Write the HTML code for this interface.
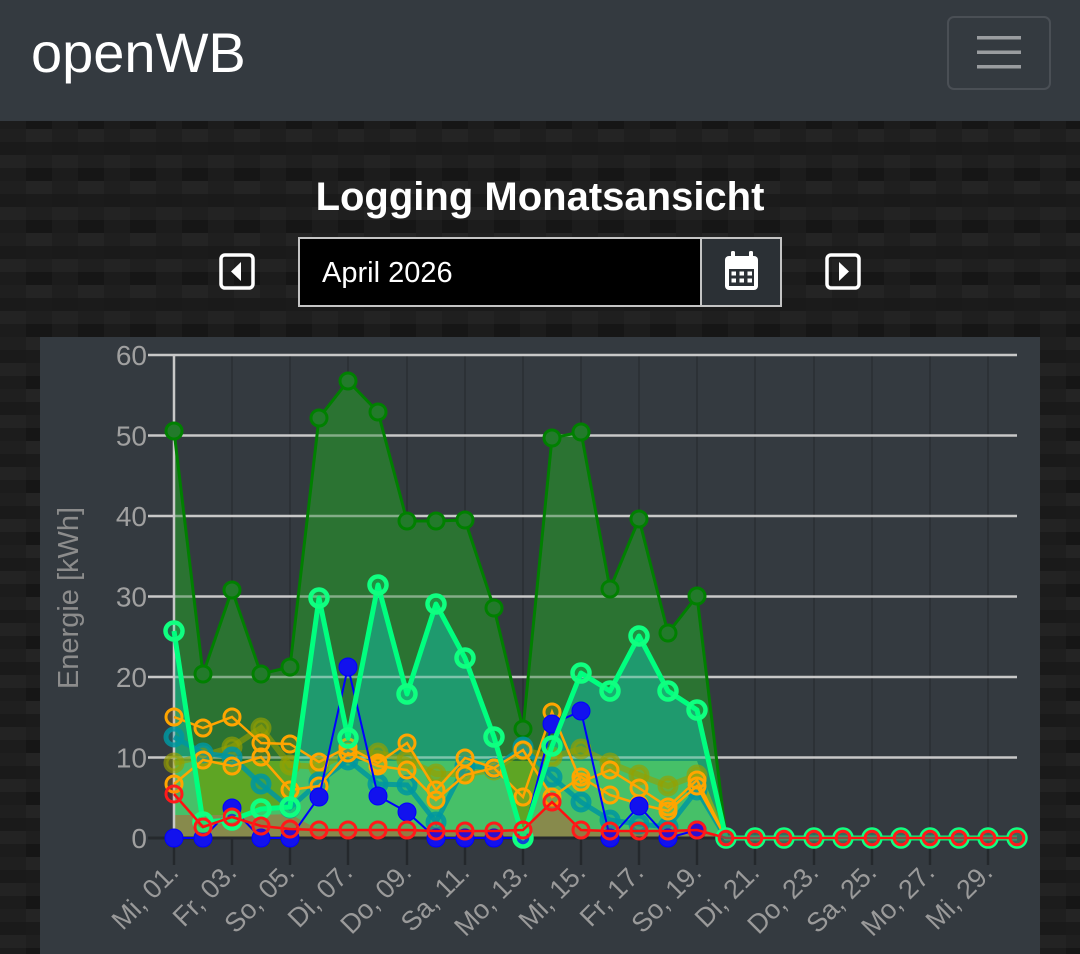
<!DOCTYPE html>
<html><head><meta charset="utf-8">
<style>
html,body{margin:0;padding:0;}
body{width:1080px;height:954px;overflow:hidden;position:relative;background-color:#1e1e1e;
font-family:"Liberation Sans",sans-serif;}
svg{position:absolute;left:0;top:0;}
</style></head>
<body>
<svg width="1080" height="954" viewBox="0 0 1080 954" xmlns="http://www.w3.org/2000/svg" font-family="Liberation Sans, sans-serif">
<defs>
<pattern id="carbon" patternUnits="userSpaceOnUse" x="0" y="129" width="52" height="52">
<rect x="0" y="0" width="26" height="13" fill="#1f1f1f"/>
<rect x="0" y="13" width="26" height="13" fill="#1a1a1a"/>
<rect x="0" y="26" width="26" height="13" fill="#232323"/>
<rect x="0" y="39" width="26" height="13" fill="#1c1c1c"/>
<rect x="26" y="0" width="26" height="13" fill="#242424"/>
<rect x="26" y="13" width="26" height="13" fill="#1b1b1b"/>
<rect x="26" y="26" width="26" height="13" fill="#1f1f1f"/>
<rect x="26" y="39" width="26" height="13" fill="#161616"/>
</pattern>
<clipPath id="bc"><polygon points="174,838 174,631 203,822 232,820 261,809 290,807 319,598 348,738 378,585 407,694 436,604 465,658 494,737 523,838 552,746 581,673 610,691 639,636 668,691 697,710 726,838"/></clipPath>
<clipPath id="pvc"><polygon points="174,838 174,431 203,674 232,590 261,674 290,667 319,418 348,381 378,412 407,521 436,521 465,520 494,608 523,729 552,438 581,432 610,589 639,519 668,633 697,596 726,838"/></clipPath>
</defs>
<rect x="0" y="0" width="1080" height="954" fill="url(#carbon)"/>
<!-- header -->
<rect x="0" y="0" width="1080" height="121" fill="#343a40"/>
<text x="31" y="72" font-size="56" fill="#ffffff">openWB</text>
<rect x="948" y="17" width="102" height="72" rx="6" fill="none" stroke="#4a4f55" stroke-width="2"/>
<rect x="977" y="36" width="44" height="3.5" fill="#9a9da0"/>
<rect x="977" y="50.5" width="44" height="3.5" fill="#9a9da0"/>
<rect x="977" y="65" width="44" height="3.5" fill="#9a9da0"/>

<!-- title -->
<text x="540" y="210" font-size="40" font-weight="bold" fill="#ffffff" text-anchor="middle">Logging Monatsansicht</text>
<rect x="221" y="255" width="32" height="33" rx="4" fill="none" stroke="#ffffff" stroke-width="3.5"/>
<polygon points="241,262 241,281 231,271.5" fill="#ffffff"/>
<rect x="827" y="255" width="32" height="33" rx="4" fill="none" stroke="#ffffff" stroke-width="3.5"/>
<polygon points="839,262 839,281 849,271.5" fill="#ffffff"/>
<rect x="299" y="238" width="402" height="68" fill="#000000" stroke="#c4c4c4" stroke-width="2"/>
<rect x="701" y="238" width="80" height="68" fill="#2b3035" stroke="#c4c4c4" stroke-width="2"/>
<text x="322" y="282" font-size="29" fill="#ffffff">April 2026</text>
<rect x="731" y="251" width="4" height="10" rx="1.5" fill="#ffffff"/>
<rect x="749" y="251" width="4" height="10" rx="1.5" fill="#ffffff"/>
<rect x="725" y="256" width="33" height="34" rx="4" fill="#ffffff"/>
<rect x="729" y="269" width="25" height="17" fill="#2b3035"/>
<rect x="731.5" y="271.5" width="4.5" height="4" fill="#ffffff"/>
<rect x="739.5" y="271.5" width="4.5" height="4" fill="#ffffff"/>
<rect x="747.5" y="271.5" width="4.5" height="4" fill="#ffffff"/>
<rect x="731.5" y="278.5" width="4.5" height="4" fill="#ffffff"/>
<rect x="739.5" y="278.5" width="4.5" height="4" fill="#ffffff"/>
<rect x="747.5" y="278.5" width="4.5" height="4" fill="#ffffff"/>

<!-- chart panel -->
<rect x="40" y="337" width="1000" height="617" fill="#343a40"/>

<!-- vertical gridlines -->
<g stroke="#2c3136" stroke-width="2">
<line x1="232" y1="355" x2="232" y2="838"/><line x1="290" y1="355" x2="290" y2="838"/><line x1="348" y1="355" x2="348" y2="838"/><line x1="407" y1="355" x2="407" y2="838"/><line x1="465" y1="355" x2="465" y2="838"/><line x1="523" y1="355" x2="523" y2="838"/><line x1="581" y1="355" x2="581" y2="838"/><line x1="639" y1="355" x2="639" y2="838"/><line x1="697" y1="355" x2="697" y2="838"/><line x1="755" y1="355" x2="755" y2="838"/><line x1="814" y1="355" x2="814" y2="838"/><line x1="872" y1="355" x2="872" y2="838"/><line x1="930" y1="355" x2="930" y2="838"/><line x1="988" y1="355" x2="988" y2="838"/>
</g>
<g stroke="#24282c" stroke-width="2.5">
<line x1="174" y1="838" x2="174" y2="865"/><line x1="232" y1="838" x2="232" y2="865"/><line x1="290" y1="838" x2="290" y2="865"/><line x1="348" y1="838" x2="348" y2="865"/><line x1="407" y1="838" x2="407" y2="865"/><line x1="465" y1="838" x2="465" y2="865"/><line x1="523" y1="838" x2="523" y2="865"/><line x1="581" y1="838" x2="581" y2="865"/><line x1="639" y1="838" x2="639" y2="865"/><line x1="697" y1="838" x2="697" y2="865"/><line x1="755" y1="838" x2="755" y2="865"/><line x1="814" y1="838" x2="814" y2="865"/><line x1="872" y1="838" x2="872" y2="865"/><line x1="930" y1="838" x2="930" y2="865"/><line x1="988" y1="838" x2="988" y2="865"/>
</g>
<!-- horizontal gridlines -->
<g stroke="#c8c8c8" stroke-width="2.5">
<line x1="148" y1="355" x2="1017" y2="355"/><line x1="148" y1="435.5" x2="1017" y2="435.5"/><line x1="148" y1="516" x2="1017" y2="516"/><line x1="148" y1="596.5" x2="1017" y2="596.5"/><line x1="148" y1="677" x2="1017" y2="677"/><line x1="148" y1="757.5" x2="1017" y2="757.5"/>
</g>

<!-- fills -->
<polygon points="174,838 174,431 203,674 232,590 261,674 290,667 319,418 348,381 378,412 407,521 436,521 465,520 494,608 523,729 552,438 581,432 610,589 639,519 668,633 697,596 726,838" fill="#2b7332"/>
<polygon points="174,838 174,631 203,822 232,820 261,809 290,807 319,598 348,738 378,585 407,694 436,604 465,658 494,737 523,838 552,746 581,673 610,691 639,636 668,691 697,710 726,838" fill="#1f9a6e"/>
<polygon points="174,838 174,761 697,761 726,838" fill="#5ea524"/>
<polygon points="174,838 174,761 697,761 726,838" fill="#46c068" clip-path="url(#bc)"/>
<polygon points="174,838 174,815 203,815 232,815 261,815 290,814 319,830 348,830 378,830 407,830 436,831 465,831 494,831 523,830 552,802 581,830 610,831 639,831 668,831 697,830 726,838" fill="#878a4c"/>
<g stroke="rgba(255,255,255,0.42)" stroke-width="2.5" clip-path="url(#pvc)">
<line x1="148" y1="355" x2="1017" y2="355"/><line x1="148" y1="435.5" x2="1017" y2="435.5"/><line x1="148" y1="516" x2="1017" y2="516"/><line x1="148" y1="596.5" x2="1017" y2="596.5"/><line x1="148" y1="677" x2="1017" y2="677"/><line x1="148" y1="757.5" x2="1017" y2="757.5"/>
</g>

<!-- axes -->
<line x1="148" y1="838" x2="1017" y2="838" stroke="#25292d" stroke-width="3"/>
<line x1="174" y1="355" x2="174" y2="838" stroke="#c8c8c8" stroke-width="2.5"/>

<!-- PV series -->
<polyline points="174,431 203,674 232,590 261,674 290,667 319,418 348,381 378,412 407,521 436,521 465,520 494,608 523,729 552,438 581,432 610,589 639,519 668,633 697,596 726,838" fill="none" stroke="#008000" stroke-width="3"/>
<g fill="#237a2b" stroke="#008000" stroke-width="3">
<circle cx="174" cy="431" r="8"/><circle cx="203" cy="674" r="8"/><circle cx="232" cy="590" r="8"/><circle cx="261" cy="674" r="8"/><circle cx="290" cy="667" r="8"/><circle cx="319" cy="418" r="8"/><circle cx="348" cy="381" r="8"/><circle cx="378" cy="412" r="8"/><circle cx="407" cy="521" r="8"/><circle cx="436" cy="521" r="8"/><circle cx="465" cy="520" r="8"/><circle cx="494" cy="608" r="8"/><circle cx="523" cy="729" r="8"/><circle cx="552" cy="438" r="8"/><circle cx="581" cy="432" r="8"/><circle cx="610" cy="589" r="8"/><circle cx="639" cy="519" r="8"/><circle cx="668" cy="633" r="8"/><circle cx="697" cy="596" r="8"/>
</g>

<!-- olive -->
<polyline points="174,763 203,756 232,747 261,728 290,765 319,767 348,753 378,753 407,760 436,774 465,774 494,770 523,750 552,757 581,749 610,763 639,775 668,786 697,775 726,838" fill="none" stroke="rgba(150,160,0,0.6)" stroke-width="6"/>
<g fill="rgba(150,160,0,0.45)" stroke="rgba(150,160,0,0.65)" stroke-width="5">
<circle cx="174" cy="763" r="8"/><circle cx="203" cy="756" r="8"/><circle cx="232" cy="747" r="8"/><circle cx="261" cy="728" r="8"/><circle cx="290" cy="765" r="8"/><circle cx="319" cy="767" r="8"/><circle cx="348" cy="753" r="8"/><circle cx="378" cy="753" r="8"/><circle cx="407" cy="760" r="8"/><circle cx="436" cy="774" r="8"/><circle cx="465" cy="774" r="8"/><circle cx="494" cy="770" r="8"/><circle cx="523" cy="750" r="8"/><circle cx="552" cy="757" r="8"/><circle cx="581" cy="749" r="8"/><circle cx="610" cy="763" r="8"/><circle cx="639" cy="775" r="8"/><circle cx="668" cy="786" r="8"/><circle cx="697" cy="775" r="8"/>
</g>

<!-- teal -->
<polyline points="174,737 203,753 232,757 261,784 290,808 319,782 348,760 378,784 407,785 436,822 465,766 494,768 523,747 552,777 581,802 610,820 639,824 668,827 697,790 726,838" fill="none" stroke="rgba(0,150,160,0.85)" stroke-width="5"/>
<g fill="rgba(0,150,160,0.3)" stroke="rgba(0,150,160,0.85)" stroke-width="5">
<circle cx="174" cy="737" r="8"/><circle cx="203" cy="753" r="8"/><circle cx="232" cy="757" r="8"/><circle cx="261" cy="784" r="8"/><circle cx="290" cy="808" r="8"/><circle cx="319" cy="782" r="8"/><circle cx="348" cy="760" r="8"/><circle cx="378" cy="784" r="8"/><circle cx="407" cy="785" r="8"/><circle cx="436" cy="822" r="8"/><circle cx="465" cy="766" r="8"/><circle cx="494" cy="768" r="8"/><circle cx="523" cy="747" r="8"/><circle cx="552" cy="777" r="8"/><circle cx="581" cy="802" r="8"/><circle cx="610" cy="820" r="8"/><circle cx="639" cy="824" r="8"/><circle cx="668" cy="827" r="8"/><circle cx="697" cy="790" r="8"/>
</g>

<!-- orange B -->
<polyline points="174,784 203,760 232,766 261,757 290,790 319,786 348,753 378,766 407,770 436,800 465,775 494,768 523,750 552,797 581,777 610,795 639,804 668,811 697,786 726,838" fill="none" stroke="#ffa500" stroke-width="2.5"/>
<g fill="rgba(255,165,0,0.15)" stroke="#ffa500" stroke-width="3">
<circle cx="174" cy="784" r="8"/><circle cx="203" cy="760" r="8"/><circle cx="232" cy="766" r="8"/><circle cx="261" cy="757" r="8"/><circle cx="290" cy="790" r="8"/><circle cx="319" cy="786" r="8"/><circle cx="348" cy="753" r="8"/><circle cx="378" cy="766" r="8"/><circle cx="407" cy="770" r="8"/><circle cx="436" cy="800" r="8"/><circle cx="465" cy="775" r="8"/><circle cx="494" cy="768" r="8"/><circle cx="523" cy="750" r="8"/><circle cx="552" cy="797" r="8"/><circle cx="581" cy="777" r="8"/><circle cx="610" cy="795" r="8"/><circle cx="639" cy="804" r="8"/><circle cx="668" cy="811" r="8"/><circle cx="697" cy="786" r="8"/>
</g>

<!-- orange A -->
<polyline points="174,717 203,728 232,717 261,743 290,744 319,762 348,747 378,763 407,743 436,790 465,758 494,768 523,797 552,712 581,782 610,770 639,788 668,807 697,780 726,838" fill="none" stroke="#ffa500" stroke-width="2.5"/>
<g fill="rgba(255,165,0,0.15)" stroke="#ffa500" stroke-width="3">
<circle cx="174" cy="717" r="8"/><circle cx="203" cy="728" r="8"/><circle cx="232" cy="717" r="8"/><circle cx="261" cy="743" r="8"/><circle cx="290" cy="744" r="8"/><circle cx="319" cy="762" r="8"/><circle cx="348" cy="747" r="8"/><circle cx="378" cy="763" r="8"/><circle cx="407" cy="743" r="8"/><circle cx="436" cy="790" r="8"/><circle cx="465" cy="758" r="8"/><circle cx="494" cy="768" r="8"/><circle cx="523" cy="797" r="8"/><circle cx="552" cy="712" r="8"/><circle cx="581" cy="782" r="8"/><circle cx="610" cy="770" r="8"/><circle cx="639" cy="788" r="8"/><circle cx="668" cy="807" r="8"/><circle cx="697" cy="780" r="8"/>
</g>

<!-- blue -->
<polyline points="174,838 203,838 232,808 261,838 290,838 319,797 348,667 378,796 407,812 436,838 465,838 494,838 523,838 552,724 581,711 610,838 639,806 668,838 697,830 726,838" fill="none" stroke="#0000ff" stroke-width="2"/>
<g fill="#1212ee" stroke="#0000ff" stroke-width="1">
<circle cx="174" cy="838" r="9"/><circle cx="203" cy="838" r="9"/><circle cx="232" cy="808" r="9"/><circle cx="261" cy="838" r="9"/><circle cx="290" cy="838" r="9"/><circle cx="319" cy="797" r="9"/><circle cx="348" cy="667" r="9"/><circle cx="378" cy="796" r="9"/><circle cx="407" cy="812" r="9"/><circle cx="436" cy="838" r="9"/><circle cx="465" cy="838" r="9"/><circle cx="494" cy="838" r="9"/><circle cx="523" cy="838" r="9"/><circle cx="552" cy="724" r="9"/><circle cx="581" cy="711" r="9"/><circle cx="610" cy="838" r="9"/><circle cx="639" cy="806" r="9"/><circle cx="668" cy="838" r="9"/><circle cx="697" cy="830" r="9"/>
</g>

<!-- bright green -->
<polyline points="174,631 203,822 232,820 261,809 290,807 319,598 348,738 378,585 407,694 436,604 465,658 494,737 523,838 552,746 581,673 610,691 639,636 668,691 697,710 726,838 755,838 784,838 814,838 843,838 872,838 901,838 930,838 959,838 988,838 1017,838" fill="none" stroke="#00ff7f" stroke-width="5" stroke-linejoin="round"/>
<g fill="rgba(0,255,127,0.22)" stroke="#10ff80" stroke-width="4.5">
<circle cx="174" cy="631" r="8.5"/><circle cx="203" cy="822" r="8.5"/><circle cx="232" cy="820" r="8.5"/><circle cx="261" cy="809" r="8.5"/><circle cx="290" cy="807" r="8.5"/><circle cx="319" cy="598" r="8.5"/><circle cx="348" cy="738" r="8.5"/><circle cx="378" cy="585" r="8.5"/><circle cx="407" cy="694" r="8.5"/><circle cx="436" cy="604" r="8.5"/><circle cx="465" cy="658" r="8.5"/><circle cx="494" cy="737" r="8.5"/><circle cx="523" cy="838" r="8.5"/><circle cx="552" cy="746" r="8.5"/><circle cx="581" cy="673" r="8.5"/><circle cx="610" cy="691" r="8.5"/><circle cx="639" cy="636" r="8.5"/><circle cx="668" cy="691" r="8.5"/><circle cx="697" cy="710" r="8.5"/><circle cx="726" cy="838" r="8.5"/><circle cx="755" cy="838" r="8.5"/><circle cx="784" cy="838" r="8.5"/><circle cx="814" cy="838" r="8.5"/><circle cx="843" cy="838" r="8.5"/><circle cx="872" cy="838" r="8.5"/><circle cx="901" cy="838" r="8.5"/><circle cx="930" cy="838" r="8.5"/><circle cx="959" cy="838" r="8.5"/><circle cx="988" cy="838" r="8.5"/><circle cx="1017" cy="838" r="8.5"/>
</g>

<!-- red -->
<polyline points="174,794 203,827 232,817 261,826 290,829 319,830 348,830 378,830 407,830 436,831 465,831 494,831 523,830 552,802 581,830 610,831 639,831 668,831 697,830 726,838 755,838 784,838 814,838 843,838 872,838 901,838 930,838 959,838 988,838 1017,838" fill="none" stroke="#ff1010" stroke-width="2.5"/>
<g fill="rgba(255,0,0,0.12)" stroke="#ff1a1a" stroke-width="3">
<circle cx="174" cy="794" r="8"/><circle cx="203" cy="827" r="8"/><circle cx="232" cy="817" r="8"/><circle cx="261" cy="826" r="8"/><circle cx="290" cy="829" r="8"/><circle cx="319" cy="830" r="8"/><circle cx="348" cy="830" r="8"/><circle cx="378" cy="830" r="8"/><circle cx="407" cy="830" r="8"/><circle cx="436" cy="831" r="8"/><circle cx="465" cy="831" r="8"/><circle cx="494" cy="831" r="8"/><circle cx="523" cy="830" r="8"/><circle cx="552" cy="802" r="8"/><circle cx="581" cy="830" r="8"/><circle cx="610" cy="831" r="8"/><circle cx="639" cy="831" r="8"/><circle cx="668" cy="831" r="8"/><circle cx="697" cy="830" r="8"/>
</g>
<g fill="rgba(70,110,100,0.6)" stroke="#ff1a1a" stroke-width="3">
<circle cx="726" cy="838" r="6.8"/><circle cx="755" cy="838" r="6.8"/><circle cx="784" cy="838" r="6.8"/><circle cx="814" cy="838" r="6.8"/><circle cx="843" cy="838" r="6.8"/><circle cx="872" cy="838" r="6.8"/><circle cx="901" cy="838" r="6.8"/><circle cx="930" cy="838" r="6.8"/><circle cx="959" cy="838" r="6.8"/><circle cx="988" cy="838" r="6.8"/><circle cx="1017" cy="838" r="6.8"/>
</g>

<!-- y labels -->
<g font-size="28" fill="#a0a0a0" text-anchor="end">
<text x="147" y="365">60</text>
<text x="147" y="445.5">50</text>
<text x="147" y="526">40</text>
<text x="147" y="606.5">30</text>
<text x="147" y="687">20</text>
<text x="147" y="767.5">10</text>
<text x="147" y="848">0</text>
</g>
<text transform="translate(78,598) rotate(-90)" font-size="29" fill="#8c8c8c" text-anchor="middle">Energie [kWh]</text>

<!-- x labels -->
<g font-size="27" fill="#9a9a9a" text-anchor="end">
<text transform="translate(180,874) rotate(-45)">Mi, 01.</text>
<text transform="translate(238,874) rotate(-45)">Fr, 03.</text>
<text transform="translate(296,874) rotate(-45)">So, 05.</text>
<text transform="translate(354,874) rotate(-45)">Di, 07.</text>
<text transform="translate(413,874) rotate(-45)">Do, 09.</text>
<text transform="translate(471,874) rotate(-45)">Sa, 11.</text>
<text transform="translate(529,874) rotate(-45)">Mo, 13.</text>
<text transform="translate(587,874) rotate(-45)">Mi, 15.</text>
<text transform="translate(645,874) rotate(-45)">Fr, 17.</text>
<text transform="translate(703,874) rotate(-45)">So, 19.</text>
<text transform="translate(761,874) rotate(-45)">Di, 21.</text>
<text transform="translate(820,874) rotate(-45)">Do, 23.</text>
<text transform="translate(878,874) rotate(-45)">Sa, 25.</text>
<text transform="translate(936,874) rotate(-45)">Mo, 27.</text>
<text transform="translate(994,874) rotate(-45)">Mi, 29.</text>
</g>
</svg>
</body></html>
